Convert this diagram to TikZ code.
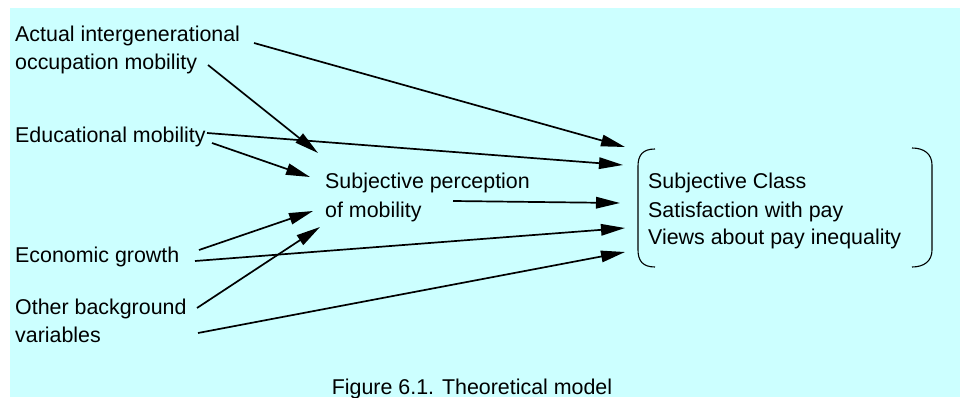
\documentclass[tikz,border=0pt]{standalone}
\usepackage{fontspec}
\setmainfont{Liberation Sans}
\usetikzlibrary{arrows.meta}
\definecolor{figCyan}{HTML}{CCFFFF}

\begin{document}
\begin{tikzpicture}[x=1pt, y=-1pt,
  every node/.style={font=\fontsize{21.4}{28}\selectfont},
  lbl/.style={inner sep=0pt, anchor=base west},
  arr/.style={-{Triangle[length=24pt,width=11.5pt]}, line width=1.7pt},
  brace/.style={line width=1.1pt},
]

% === Background ===
\useasboundingbox (0,0) rectangle (960,398);
\fill[figCyan] (10,8) rectangle (960,397);

% === Left column: predictors ===
\node[lbl] (act1) at (15,42) {Actual intergenerational};
\node[lbl] (act2) at (15,70) {occupation mobility};
\node[lbl] (edu) at (15,143) {Educational mobility};
\node[lbl] (econ) at (15,262) {Economic growth};
\node[lbl] (oth1) at (15,314) {Other background};
\node[lbl] (oth2) at (15,342) {variables};

% === Middle: perception ===
\node[lbl] (perc1) at (325,189) {Subjective perception};
\node[lbl] (perc2) at (325,217) {of mobility};

% === Right: outcomes ===
\node[lbl] (out1) at (648,189) {Subjective Class};
\node[lbl] (out2) at (648,217) {Satisfaction with pay};
\node[lbl] (out3) at (648,244) {Views about pay inequality};

% brackets round the outcomes
\draw[brace] (655,149) .. controls (643,149) and (638,155) .. (638,166)
  -- (638,250) .. controls (638,261) and (643,267) .. (655,267);
\draw[brace] (912,148) .. controls (924,148) and (932,154) .. (932,165)
  -- (932,250) .. controls (932,261) and (924,267) .. (912,267);

% === Arrow ends ===
\coordinate (actS) at (254,43);
\coordinate (occS) at (208,65);
\coordinate (eduS1) at (207,133);
\coordinate (eduS2) at (212,143);
\coordinate (percS) at (453,201);
\coordinate (econS1) at (199,250);
\coordinate (econS2) at (195,261);
\coordinate (othS1) at (197,308);
\coordinate (othS2) at (198,333);

\coordinate (perc-a) at (318,153);
\coordinate (perc-b) at (310,177);
\coordinate (perc-c) at (313,211);
\coordinate (perc-d) at (320,227);

\coordinate (out-a) at (625,147);
\coordinate (out-b) at (623,165);
\coordinate (out-c) at (620,203);
\coordinate (out-d) at (625,228);
\coordinate (out-e) at (625,252);

% === Arrows ===
\draw[arr] (actS) -- (out-a);
\draw[arr] (occS) -- (perc-a);
\draw[arr] (eduS1) -- (out-b);
\draw[arr] (eduS2) -- (perc-b);
\draw[arr] (percS) -- (out-c);
\draw[arr] (econS1) -- (perc-c);
\draw[arr] (econS2) -- (out-d);
\draw[arr] (othS1) -- (perc-d);
\draw[arr] (othS2) -- (out-e);

% === Caption ===
\node[inner sep=0pt, anchor=base] (cap) at (472,394) {Figure 6.1. Theoretical model};

\end{tikzpicture}
\end{document}
